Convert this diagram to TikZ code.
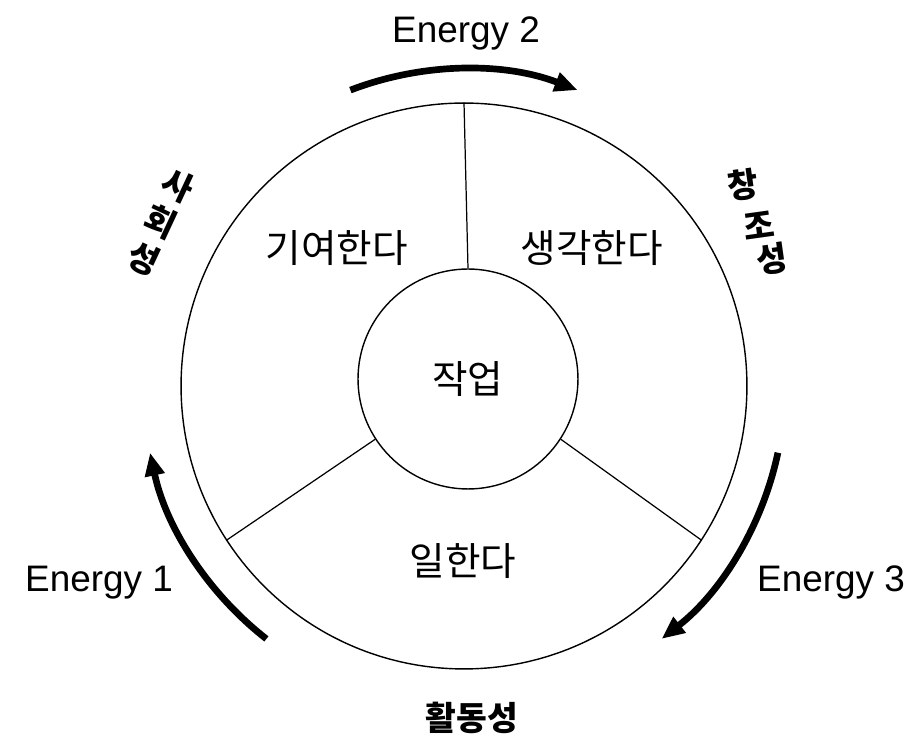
\documentclass[tikz,border=0pt]{standalone}
\usepackage{fontspec}
\setmainfont{Liberation Sans}
\newfontfamily\krfont{Noto Sans CJK KR}
\usetikzlibrary{arrows.meta}

\begin{document}
\begin{tikzpicture}[x=0.02cm, y=0.02cm,
    energy/.style={line width=3.8pt, -{Triangle[length=0.46cm, width=0.38cm]}},
    divider/.style={line width=0.7pt},
    part/.style={font=\krfont\fontsize{22}{22}\selectfont},
    trait/.style={font=\krfont\bfseries\fontsize{19}{23}\selectfont, inner sep=0pt, align=center},
    elabel/.style={font=\fontsize{21}{21}\selectfont, anchor=base}]
  \useasboundingbox (-464,-360) rectangle (453,386);
  % wheel
  \node[circle, draw, line width=0.8pt, minimum size=11.32cm] (ring) at (0,0) {};
  \node[circle, draw, line width=0.8pt, minimum size=4.4cm, part] (work) at (4,7) {작업};
  \draw[divider] (work.north) -- (ring.north);
  \draw[divider] (work.213) -- (ring.213);
  \draw[divider] (work.327) -- (ring.327);
  % sectors
  \node[part] (give) at (-127,138) {기여한다};
  \node[part] (think) at (128,138) {생각한다};
  \node[part] (labour) at (-1,-175) {일한다};
  % traits
  \node[trait] (active) at (8,-332) {활동성};
  \node[trait, rotate=-25] (social) at (-303,164) {사\\회\\성};
  \node[trait, rotate=8] (cre1) at (279,201) {창};
  \node[trait, rotate=8] (cre2) at (295,161) {조};
  \node[trait, rotate=8] (cre3) at (308,127) {성};
  % energy flow
  \node[elabel] (e1) at (-365,-206) {Energy 1};
  \node[elabel] (e2) at (2,343) {Energy 2};
  \node[elabel] (e3) at (367,-206) {Energy 3};
  \draw[energy] (232:6.42cm) arc[start angle=232, end angle=192, radius=6.42cm];
  \draw[energy] (111:6.34cm) arc[start angle=111, end angle=69, radius=6.34cm];
  \draw[energy] (-12:6.42cm) arc[start angle=-12, end angle=-52, radius=6.42cm];
\end{tikzpicture}
\end{document}
